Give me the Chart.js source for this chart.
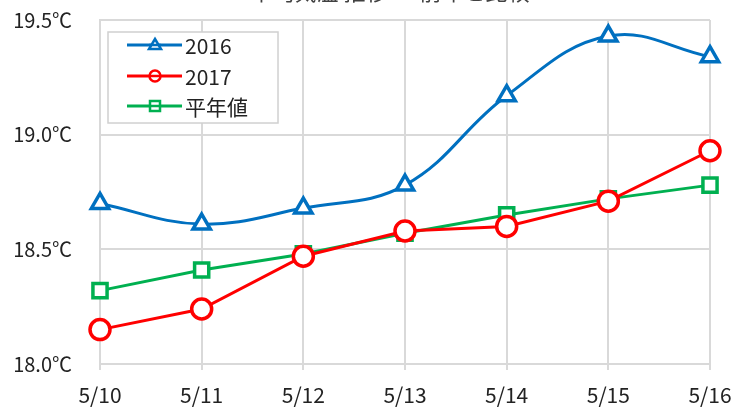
<!DOCTYPE html>
<html><head><meta charset="utf-8">
<script src="https://cdn.jsdelivr.net/npm/chart.js@4/dist/chart.umd.min.js"></script>
<style>html,body{margin:0;padding:0;background:#fff;overflow:hidden}#wrap{position:relative;width:738px;height:414px}</style>
</head><body><div id="wrap"><canvas id="c" width="738" height="414"></canvas></div>
<script>
const categories = ['5/10','5/11','5/12','5/13','5/14','5/15','5/16'];
const seriesNames = ['2016','2017','平年値'];
const values2016 = [18.70, 18.61, 18.68, 18.78, 19.17, 19.43, 19.34];
const values2017 = [18.15, 18.24, 18.47, 18.58, 18.60, 18.71, 18.93];
const valuesNormal = [18.32, 18.41, 18.48, 18.57, 18.65, 18.72, 18.78];
const yTicks = [18.0, 18.5, 19.0, 19.5];
const titleText = '平均気温 推移 ・ 前年と比較';

const FONT = '"Noto Sans CJK JP", "Noto Sans", sans-serif';

const legendPlugin = {
  id: 'boxLegend',
  afterDraw(chart) {
    const ctx = chart.ctx;
    ctx.save();
    ctx.fillStyle = '#404040';
    ctx.font = '22px ' + FONT;
    ctx.textAlign = 'center';
    ctx.textBaseline = 'bottom';
    ctx.fillText(titleText, 390, 3);
    const bx = 108, by = 32, bw = 170, bh = 91;
    ctx.fillStyle = '#fff';
    ctx.fillRect(bx, by, bw, bh);
    ctx.strokeStyle = '#d0d0d0';
    ctx.lineWidth = 1.5;
    ctx.strokeRect(bx, by, bw, bh);
    const rows = [45, 76, 106];
    chart.data.datasets.forEach((ds, i) => {
      const y = rows[i];
      ctx.strokeStyle = ds.borderColor;
      ctx.lineWidth = 3;
      ctx.beginPath(); ctx.moveTo(127, y); ctx.lineTo(182, y); ctx.stroke();
      ctx.fillStyle = '#fff';
      ctx.strokeStyle = ds.borderColor;
      ctx.lineWidth = 2.5;
      ctx.beginPath();
      if (ds.pointStyle === 'triangle') {
        ctx.moveTo(155, y - 6); ctx.lineTo(161, y + 4); ctx.lineTo(149, y + 4); ctx.closePath();
      } else if (ds.pointStyle === 'circle') {
        ctx.arc(155, y, 5.5, 0, Math.PI * 2);
      } else {
        ctx.rect(150, y - 5, 10, 10);
      }
      ctx.fill(); ctx.stroke();
      ctx.beginPath(); ctx.moveTo(149, y); ctx.lineTo(161, y); ctx.stroke();
      ctx.fillStyle = '#222';
      ctx.font = '21px ' + FONT;
      ctx.textAlign = 'left';
      ctx.textBaseline = 'middle';
      ctx.fillText(ds.label, 185, y + 1);
    });
    ctx.restore();
  }
};

new Chart(document.getElementById('c'), {
  type: 'line',
  data: {
    labels: categories,
    datasets: [
      {label: seriesNames[0], data: values2016, borderColor: '#0070C0', backgroundColor: '#fff',
       pointStyle: 'triangle', pointRadius: 10, pointBorderWidth: 3.5, borderWidth: 3, tension: 0.4},
      {label: seriesNames[1], data: values2017, borderColor: '#FF0000', backgroundColor: '#fff',
       pointStyle: 'circle', pointRadius: 10, pointBorderWidth: 3.5, borderWidth: 3, tension: 0},
      {label: seriesNames[2], data: valuesNormal, borderColor: '#00B050', backgroundColor: '#fff',
       pointStyle: 'rect', pointRadius: 10, pointBorderWidth: 3.5, borderWidth: 3, tension: 0}
    ]
  },
  options: {
    responsive: false,
    animation: false,
    clip: false,
    layout: {padding: {top: 20, right: 28, left: 0, bottom: 0}},
    plugins: {legend: {display: false}, title: {display: false}, tooltip: {enabled: false}},
    elements: {point: {hoverRadius: 10}},
    scales: {
      x: {
        type: 'category', offset: false,
        grid: {color: '#d9d9d9', lineWidth: 2, tickLength: 6, drawTicks: true},
        border: {color: '#d9d9d9', width: 2},
        ticks: {color: '#222', font: {family: FONT, size: 21}, padding: 12, maxRotation: 0, autoSkip: false},
        afterFit(s) { s.height = 50; s.paddingLeft = 0; s.paddingRight = 0; }
      },
      y: {
        min: 18, max: 19.5,
        afterBuildTicks(s) { s.ticks = yTicks.map(v => ({value: v})); },
        grid: {color: '#d9d9d9', lineWidth: 2, drawTicks: false},
        border: {color: '#d9d9d9', width: 2},
        ticks: {color: '#222', font: {family: FONT, size: 20}, padding: 28,
                callback: v => Number(v).toFixed(1) + '℃'},
        afterFit(s) { s.width = 100; s.paddingTop = 0; s.paddingBottom = 0; }
      }
    }
  },
  plugins: [legendPlugin]
});
</script></body></html>
